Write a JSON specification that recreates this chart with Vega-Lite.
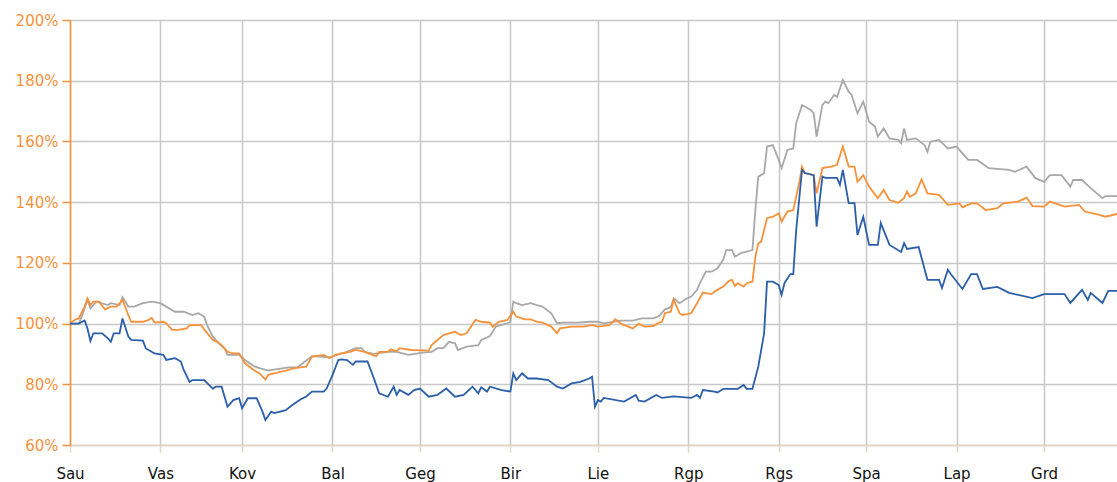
{
  "$schema": "https://vega.github.io/schema/vega-lite/v6.json",
  "autosize": {"type": "none"},
  "padding": {"left": 70, "top": 20, "right": 0, "bottom": 37},
  "width": 1047,
  "height": 425,
  "background": "#ffffff",
  "config": {"view": {"stroke": null}},
  "datasets": {
    "pts": [
      {"s":"b","d":"2009-01-01","v":100},{"s":"b","d":"2009-01-04","v":100},{"s":"b","d":"2009-01-06","v":101},{"s":"b","d":"2009-01-07","v":98.4},{"s":"b","d":"2009-01-08","v":94.3},{"s":"b","d":"2009-01-09","v":96.8},{"s":"b","d":"2009-01-12","v":96.8},{"s":"b","d":"2009-01-14","v":95.1},{"s":"b","d":"2009-01-15","v":94.0},{"s":"b","d":"2009-01-16","v":96.8},{"s":"b","d":"2009-01-18","v":96.8},{"s":"b","d":"2009-01-19","v":101.7},{"s":"b","d":"2009-01-21","v":95.7},{"s":"b","d":"2009-01-22","v":94.6},{"s":"b","d":"2009-01-26","v":94.4},{"s":"b","d":"2009-01-27","v":91.8},{"s":"b","d":"2009-01-29","v":90.7},{"s":"b","d":"2009-01-30","v":90.2},{"s":"b","d":"2009-02-02","v":89.7},{"s":"b","d":"2009-02-03","v":88.0},{"s":"b","d":"2009-02-06","v":88.6},{"s":"b","d":"2009-02-08","v":87.5},{"s":"b","d":"2009-02-09","v":84.7},{"s":"b","d":"2009-02-11","v":80.8},{"s":"b","d":"2009-02-12","v":81.4},{"s":"b","d":"2009-02-16","v":81.4},{"s":"b","d":"2009-02-19","v":78.6},{"s":"b","d":"2009-02-20","v":79.2},{"s":"b","d":"2009-02-22","v":79.2},{"s":"b","d":"2009-02-24","v":72.6},{"s":"b","d":"2009-02-26","v":74.8},{"s":"b","d":"2009-02-28","v":75.4},{"s":"b","d":"2009-03-01","v":72.1},{"s":"b","d":"2009-03-03","v":75.4},{"s":"b","d":"2009-03-06","v":75.4},{"s":"b","d":"2009-03-08","v":71},{"s":"b","d":"2009-03-09","v":68.2},{"s":"b","d":"2009-03-11","v":71},{"s":"b","d":"2009-03-12","v":70.5},{"s":"b","d":"2009-03-16","v":71.5},{"s":"b","d":"2009-03-18","v":73},{"s":"b","d":"2009-03-21","v":75},{"s":"b","d":"2009-03-23","v":76},{"s":"b","d":"2009-03-25","v":77.6},{"s":"b","d":"2009-03-29","v":77.6},{"s":"b","d":"2009-03-30","v":78.6},{"s":"b","d":"2009-04-01","v":83},{"s":"b","d":"2009-04-03","v":88},{"s":"b","d":"2009-04-04","v":88.2},{"s":"b","d":"2009-04-06","v":88.0},{"s":"b","d":"2009-04-08","v":86.4},{"s":"b","d":"2009-04-09","v":87.5},{"s":"b","d":"2009-04-13","v":87.5},{"s":"b","d":"2009-04-15","v":82.5},{"s":"b","d":"2009-04-17","v":77.0},{"s":"b","d":"2009-04-20","v":75.9},{"s":"b","d":"2009-04-22","v":79.2},{"s":"b","d":"2009-04-23","v":76.5},{"s":"b","d":"2009-04-24","v":78.1},{"s":"b","d":"2009-04-27","v":76.5},{"s":"b","d":"2009-04-29","v":78.1},{"s":"b","d":"2009-05-01","v":78.6},{"s":"b","d":"2009-05-04","v":75.9},{"s":"b","d":"2009-05-07","v":76.5},{"s":"b","d":"2009-05-10","v":78.6},{"s":"b","d":"2009-05-13","v":75.9},{"s":"b","d":"2009-05-16","v":76.5},{"s":"b","d":"2009-05-19","v":79.2},{"s":"b","d":"2009-05-21","v":77.0},{"s":"b","d":"2009-05-22","v":79.0},{"s":"b","d":"2009-05-24","v":77.6},{"s":"b","d":"2009-05-25","v":79.2},{"s":"b","d":"2009-05-29","v":78.1},{"s":"b","d":"2009-06-01","v":77.6},{"s":"b","d":"2009-06-02","v":83.6},{"s":"b","d":"2009-06-03","v":81.4},{"s":"b","d":"2009-06-05","v":83.6},{"s":"b","d":"2009-06-07","v":81.9},{"s":"b","d":"2009-06-10","v":81.9},{"s":"b","d":"2009-06-14","v":81.4},{"s":"b","d":"2009-06-17","v":79.2},{"s":"b","d":"2009-06-19","v":78.6},{"s":"b","d":"2009-06-22","v":80.3},{"s":"b","d":"2009-06-25","v":80.8},{"s":"b","d":"2009-06-28","v":81.9},{"s":"b","d":"2009-06-29","v":82.5},{"s":"b","d":"2009-06-30","v":72.6},{"s":"b","d":"2009-07-01","v":74.8},{"s":"b","d":"2009-07-02","v":74.3},{"s":"b","d":"2009-07-03","v":75.5},{"s":"b","d":"2009-07-10","v":74.3},{"s":"b","d":"2009-07-14","v":76.5},{"s":"b","d":"2009-07-15","v":74.6},{"s":"b","d":"2009-07-17","v":74.3},{"s":"b","d":"2009-07-21","v":76.5},{"s":"b","d":"2009-07-23","v":75.5},{"s":"b","d":"2009-07-27","v":76},{"s":"b","d":"2009-08-02","v":75.5},{"s":"b","d":"2009-08-04","v":76.5},{"s":"b","d":"2009-08-05","v":75.5},{"s":"b","d":"2009-08-06","v":78.1},{"s":"b","d":"2009-08-10","v":77.6},{"s":"b","d":"2009-08-11","v":77.3},{"s":"b","d":"2009-08-13","v":78.5},{"s":"b","d":"2009-08-18","v":78.5},{"s":"b","d":"2009-08-20","v":79.8},{"s":"b","d":"2009-08-21","v":78.5},{"s":"b","d":"2009-08-23","v":78.5},{"s":"b","d":"2009-08-25","v":85.8},{"s":"b","d":"2009-08-27","v":96.8},{"s":"b","d":"2009-08-28","v":113.8},{"s":"b","d":"2009-08-30","v":113.8},{"s":"b","d":"2009-09-01","v":112.7},{"s":"b","d":"2009-09-02","v":109.4},{"s":"b","d":"2009-09-03","v":113.4},{"s":"b","d":"2009-09-05","v":116.3},{"s":"b","d":"2009-09-06","v":116.3},{"s":"b","d":"2009-09-07","v":130.8},{"s":"b","d":"2009-09-09","v":150.6},{"s":"b","d":"2009-09-10","v":149.6},{"s":"b","d":"2009-09-13","v":148.9},{"s":"b","d":"2009-09-14","v":131.9},{"s":"b","d":"2009-09-16","v":148.4},{"s":"b","d":"2009-09-17","v":148.0},{"s":"b","d":"2009-09-21","v":148.0},{"s":"b","d":"2009-09-22","v":145.7},{"s":"b","d":"2009-09-23","v":150.6},{"s":"b","d":"2009-09-25","v":139.7},{"s":"b","d":"2009-09-27","v":139.7},{"s":"b","d":"2009-09-28","v":129.2},{"s":"b","d":"2009-09-30","v":135.2},{"s":"b","d":"2009-10-02","v":125.9},{"s":"b","d":"2009-10-05","v":125.9},{"s":"b","d":"2009-10-06","v":133.1},{"s":"b","d":"2009-10-09","v":125.9},{"s":"b","d":"2009-10-13","v":123.6},{"s":"b","d":"2009-10-14","v":126.5},{"s":"b","d":"2009-10-15","v":124.6},{"s":"b","d":"2009-10-19","v":125.2},{"s":"b","d":"2009-10-22","v":114.4},{"s":"b","d":"2009-10-26","v":114.4},{"s":"b","d":"2009-10-27","v":111.7},{"s":"b","d":"2009-10-29","v":117.7},{"s":"b","d":"2009-10-30","v":116.3},{"s":"b","d":"2009-11-03","v":111.4},{"s":"b","d":"2009-11-06","v":116.3},{"s":"b","d":"2009-11-08","v":116.3},{"s":"b","d":"2009-11-10","v":111.4},{"s":"b","d":"2009-11-15","v":112.1},{"s":"b","d":"2009-11-19","v":110.1},{"s":"b","d":"2009-11-27","v":108.4},{"s":"b","d":"2009-12-01","v":109.7},{"s":"b","d":"2009-12-08","v":109.7},{"s":"b","d":"2009-12-10","v":106.8},{"s":"b","d":"2009-12-14","v":111.1},{"s":"b","d":"2009-12-16","v":107.8},{"s":"b","d":"2009-12-17","v":110.1},{"s":"b","d":"2009-12-21","v":106.8},{"s":"b","d":"2009-12-23","v":110.8},{"s":"b","d":"2009-12-26","v":110.8},

      {"s":"o","d":"2009-01-01","v":100.1},{"s":"o","d":"2009-01-03","v":101.4},{"s":"o","d":"2009-01-04","v":101.7},{"s":"o","d":"2009-01-06","v":105.6},{"s":"o","d":"2009-01-07","v":108.3},{"s":"o","d":"2009-01-08","v":106.1},{"s":"o","d":"2009-01-09","v":107.2},{"s":"o","d":"2009-01-11","v":107.2},{"s":"o","d":"2009-01-13","v":104.7},{"s":"o","d":"2009-01-15","v":105.6},{"s":"o","d":"2009-01-17","v":105.6},{"s":"o","d":"2009-01-19","v":107.8},{"s":"o","d":"2009-01-21","v":102.8},{"s":"o","d":"2009-01-22","v":100.6},{"s":"o","d":"2009-01-26","v":100.6},{"s":"o","d":"2009-01-28","v":101.2},{"s":"o","d":"2009-01-29","v":101.9},{"s":"o","d":"2009-01-30","v":100.3},{"s":"o","d":"2009-02-02","v":100.6},{"s":"o","d":"2009-02-03","v":100.1},{"s":"o","d":"2009-02-05","v":97.9},{"s":"o","d":"2009-02-07","v":97.9},{"s":"o","d":"2009-02-10","v":98.4},{"s":"o","d":"2009-02-11","v":99.5},{"s":"o","d":"2009-02-15","v":99.5},{"s":"o","d":"2009-02-16","v":98.1},{"s":"o","d":"2009-02-19","v":94.6},{"s":"o","d":"2009-02-21","v":93.7},{"s":"o","d":"2009-02-23","v":91.8},{"s":"o","d":"2009-02-24","v":90.7},{"s":"o","d":"2009-02-26","v":90.2},{"s":"o","d":"2009-02-28","v":90.2},{"s":"o","d":"2009-03-02","v":86.9},{"s":"o","d":"2009-03-05","v":84.7},{"s":"o","d":"2009-03-07","v":83.6},{"s":"o","d":"2009-03-09","v":81.6},{"s":"o","d":"2009-03-10","v":83.1},{"s":"o","d":"2009-03-12","v":83.6},{"s":"o","d":"2009-03-16","v":84.5},{"s":"o","d":"2009-03-19","v":85.3},{"s":"o","d":"2009-03-23","v":85.8},{"s":"o","d":"2009-03-25","v":89.1},{"s":"o","d":"2009-03-29","v":89.7},{"s":"o","d":"2009-03-31","v":88.6},{"s":"o","d":"2009-04-02","v":89.7},{"s":"o","d":"2009-04-04","v":90.2},{"s":"o","d":"2009-04-07","v":90.7},{"s":"o","d":"2009-04-09","v":91.3},{"s":"o","d":"2009-04-12","v":90.7},{"s":"o","d":"2009-04-16","v":89.3},{"s":"o","d":"2009-04-17","v":90.7},{"s":"o","d":"2009-04-20","v":90.7},{"s":"o","d":"2009-04-21","v":91.5},{"s":"o","d":"2009-04-23","v":90.9},{"s":"o","d":"2009-04-24","v":91.9},{"s":"o","d":"2009-04-28","v":91.3},{"s":"o","d":"2009-05-04","v":91.1},{"s":"o","d":"2009-05-05","v":92.9},{"s":"o","d":"2009-05-07","v":94.6},{"s":"o","d":"2009-05-09","v":96.2},{"s":"o","d":"2009-05-11","v":96.8},{"s":"o","d":"2009-05-13","v":97.3},{"s":"o","d":"2009-05-15","v":96.2},{"s":"o","d":"2009-05-17","v":96.8},{"s":"o","d":"2009-05-20","v":101.2},{"s":"o","d":"2009-05-22","v":100.6},{"s":"o","d":"2009-05-25","v":100.3},{"s":"o","d":"2009-05-26","v":99.0},{"s":"o","d":"2009-05-28","v":100.6},{"s":"o","d":"2009-05-31","v":101.2},{"s":"o","d":"2009-06-02","v":103.9},{"s":"o","d":"2009-06-03","v":102.3},{"s":"o","d":"2009-06-06","v":101.4},{"s":"o","d":"2009-06-08","v":101.4},{"s":"o","d":"2009-06-10","v":100.6},{"s":"o","d":"2009-06-12","v":100.3},{"s":"o","d":"2009-06-15","v":99.0},{"s":"o","d":"2009-06-17","v":96.8},{"s":"o","d":"2009-06-18","v":98.4},{"s":"o","d":"2009-06-22","v":99.0},{"s":"o","d":"2009-06-26","v":99.0},{"s":"o","d":"2009-06-29","v":99.5},{"s":"o","d":"2009-07-01","v":99.0},{"s":"o","d":"2009-07-05","v":99.5},{"s":"o","d":"2009-07-07","v":101.4},{"s":"o","d":"2009-07-09","v":99.9},{"s":"o","d":"2009-07-13","v":98.4},{"s":"o","d":"2009-07-15","v":99.9},{"s":"o","d":"2009-07-17","v":99.0},{"s":"o","d":"2009-07-20","v":99.2},{"s":"o","d":"2009-07-22","v":100.3},{"s":"o","d":"2009-07-23","v":100.6},{"s":"o","d":"2009-07-24","v":103.4},{"s":"o","d":"2009-07-26","v":103.9},{"s":"o","d":"2009-07-27","v":107.8},{"s":"o","d":"2009-07-29","v":103.4},{"s":"o","d":"2009-07-30","v":102.8},{"s":"o","d":"2009-08-02","v":103.4},{"s":"o","d":"2009-08-04","v":106.7},{"s":"o","d":"2009-08-06","v":110.2},{"s":"o","d":"2009-08-09","v":109.7},{"s":"o","d":"2009-08-10","v":110.5},{"s":"o","d":"2009-08-11","v":111.1},{"s":"o","d":"2009-08-13","v":112.2},{"s":"o","d":"2009-08-15","v":114.1},{"s":"o","d":"2009-08-16","v":114.4},{"s":"o","d":"2009-08-17","v":112.4},{"s":"o","d":"2009-08-18","v":113.3},{"s":"o","d":"2009-08-20","v":112.2},{"s":"o","d":"2009-08-21","v":113.3},{"s":"o","d":"2009-08-23","v":113.8},{"s":"o","d":"2009-08-24","v":122.0},{"s":"o","d":"2009-08-25","v":126.4},{"s":"o","d":"2009-08-26","v":127.0},{"s":"o","d":"2009-08-27","v":130.8},{"s":"o","d":"2009-08-28","v":134.7},{"s":"o","d":"2009-08-30","v":135.2},{"s":"o","d":"2009-09-01","v":136.3},{"s":"o","d":"2009-09-02","v":133.6},{"s":"o","d":"2009-09-04","v":136.9},{"s":"o","d":"2009-09-06","v":137.4},{"s":"o","d":"2009-09-08","v":146.2},{"s":"o","d":"2009-09-09","v":151.7},{"s":"o","d":"2009-09-10","v":149.5},{"s":"o","d":"2009-09-13","v":148.9},{"s":"o","d":"2009-09-14","v":142.9},{"s":"o","d":"2009-09-16","v":151.2},{"s":"o","d":"2009-09-19","v":151.7},{"s":"o","d":"2009-09-21","v":152.3},{"s":"o","d":"2009-09-23","v":158.3},{"s":"o","d":"2009-09-25","v":151.7},{"s":"o","d":"2009-09-27","v":151.7},{"s":"o","d":"2009-09-28","v":146.7},{"s":"o","d":"2009-09-30","v":148.9},{"s":"o","d":"2009-10-02","v":145.1},{"s":"o","d":"2009-10-05","v":141.3},{"s":"o","d":"2009-10-07","v":144.0},{"s":"o","d":"2009-10-09","v":140.7},{"s":"o","d":"2009-10-12","v":139.8},{"s":"o","d":"2009-10-14","v":141.3},{"s":"o","d":"2009-10-15","v":143.5},{"s":"o","d":"2009-10-16","v":141.8},{"s":"o","d":"2009-10-18","v":142.9},{"s":"o","d":"2009-10-20","v":147.5},{"s":"o","d":"2009-10-22","v":142.9},{"s":"o","d":"2009-10-26","v":142.4},{"s":"o","d":"2009-10-29","v":139.1},{"s":"o","d":"2009-11-02","v":139.6},{"s":"o","d":"2009-11-03","v":138.3},{"s":"o","d":"2009-11-06","v":139.6},{"s":"o","d":"2009-11-08","v":139.6},{"s":"o","d":"2009-11-11","v":137.4},{"s":"o","d":"2009-11-15","v":138.0},{"s":"o","d":"2009-11-17","v":139.6},{"s":"o","d":"2009-11-22","v":140.2},{"s":"o","d":"2009-11-25","v":141.5},{"s":"o","d":"2009-11-27","v":138.7},{"s":"o","d":"2009-12-01","v":138.5},{"s":"o","d":"2009-12-03","v":140.2},{"s":"o","d":"2009-12-08","v":138.5},{"s":"o","d":"2009-12-13","v":139.1},{"s":"o","d":"2009-12-15","v":136.9},{"s":"o","d":"2009-12-20","v":135.8},{"s":"o","d":"2009-12-22","v":135.2},{"s":"o","d":"2009-12-26","v":136.1},

      {"s":"g","d":"2009-01-01","v":100},{"s":"g","d":"2009-01-04","v":100},{"s":"g","d":"2009-01-05","v":102.3},{"s":"g","d":"2009-01-07","v":107.8},{"s":"g","d":"2009-01-08","v":105.0},{"s":"g","d":"2009-01-10","v":107.2},{"s":"g","d":"2009-01-14","v":106.1},{"s":"g","d":"2009-01-15","v":106.7},{"s":"g","d":"2009-01-18","v":106.1},{"s":"g","d":"2009-01-19","v":108.7},{"s":"g","d":"2009-01-21","v":105.6},{"s":"g","d":"2009-01-23","v":105.6},{"s":"g","d":"2009-01-26","v":106.7},{"s":"g","d":"2009-01-29","v":107.2},{"s":"g","d":"2009-02-01","v":106.7},{"s":"g","d":"2009-02-04","v":105.0},{"s":"g","d":"2009-02-06","v":103.9},{"s":"g","d":"2009-02-09","v":103.9},{"s":"g","d":"2009-02-12","v":102.8},{"s":"g","d":"2009-02-14","v":103.4},{"s":"g","d":"2009-02-16","v":102.3},{"s":"g","d":"2009-02-17","v":99.5},{"s":"g","d":"2009-02-19","v":95.7},{"s":"g","d":"2009-02-21","v":93.5},{"s":"g","d":"2009-02-23","v":91.8},{"s":"g","d":"2009-02-24","v":89.7},{"s":"g","d":"2009-02-28","v":89.7},{"s":"g","d":"2009-03-02","v":88.0},{"s":"g","d":"2009-03-05","v":86.0},{"s":"g","d":"2009-03-07","v":85.3},{"s":"g","d":"2009-03-10","v":84.5},{"s":"g","d":"2009-03-13","v":85.0},{"s":"g","d":"2009-03-17","v":85.6},{"s":"g","d":"2009-03-20","v":85.6},{"s":"g","d":"2009-03-25","v":89.3},{"s":"g","d":"2009-03-31","v":88.9},{"s":"g","d":"2009-04-05","v":90.4},{"s":"g","d":"2009-04-09","v":91.9},{"s":"g","d":"2009-04-11","v":91.9},{"s":"g","d":"2009-04-12","v":90.7},{"s":"g","d":"2009-04-15","v":90.0},{"s":"g","d":"2009-04-20","v":90.7},{"s":"g","d":"2009-04-23","v":90.7},{"s":"g","d":"2009-04-27","v":89.7},{"s":"g","d":"2009-05-02","v":90.4},{"s":"g","d":"2009-05-05","v":90.7},{"s":"g","d":"2009-05-07","v":91.9},{"s":"g","d":"2009-05-09","v":91.9},{"s":"g","d":"2009-05-11","v":94.0},{"s":"g","d":"2009-05-13","v":93.5},{"s":"g","d":"2009-05-14","v":91.3},{"s":"g","d":"2009-05-17","v":92.4},{"s":"g","d":"2009-05-21","v":92.9},{"s":"g","d":"2009-05-22","v":94.6},{"s":"g","d":"2009-05-25","v":95.9},{"s":"g","d":"2009-05-27","v":99.0},{"s":"g","d":"2009-05-31","v":100.1},{"s":"g","d":"2009-06-01","v":100.6},{"s":"g","d":"2009-06-02","v":107.2},{"s":"g","d":"2009-06-03","v":106.7},{"s":"g","d":"2009-06-05","v":106.1},{"s":"g","d":"2009-06-08","v":106.7},{"s":"g","d":"2009-06-10","v":106.1},{"s":"g","d":"2009-06-12","v":105.6},{"s":"g","d":"2009-06-15","v":103.4},{"s":"g","d":"2009-06-17","v":100.1},{"s":"g","d":"2009-06-19","v":100.3},{"s":"g","d":"2009-06-24","v":100.3},{"s":"g","d":"2009-06-28","v":100.6},{"s":"g","d":"2009-07-01","v":100.6},{"s":"g","d":"2009-07-03","v":100.1},{"s":"g","d":"2009-07-09","v":101.0},{"s":"g","d":"2009-07-13","v":101.0},{"s":"g","d":"2009-07-16","v":101.7},{"s":"g","d":"2009-07-20","v":101.7},{"s":"g","d":"2009-07-22","v":102.5},{"s":"g","d":"2009-07-24","v":104.7},{"s":"g","d":"2009-07-26","v":105.4},{"s":"g","d":"2009-07-27","v":108.3},{"s":"g","d":"2009-07-29","v":106.7},{"s":"g","d":"2009-07-31","v":108.0},{"s":"g","d":"2009-08-02","v":108.9},{"s":"g","d":"2009-08-04","v":111.1},{"s":"g","d":"2009-08-05","v":113.3},{"s":"g","d":"2009-08-07","v":117.1},{"s":"g","d":"2009-08-09","v":117.1},{"s":"g","d":"2009-08-11","v":118.2},{"s":"g","d":"2009-08-13","v":121.0},{"s":"g","d":"2009-08-14","v":124.2},{"s":"g","d":"2009-08-16","v":124.2},{"s":"g","d":"2009-08-17","v":122.0},{"s":"g","d":"2009-08-19","v":123.2},{"s":"g","d":"2009-08-21","v":123.7},{"s":"g","d":"2009-08-23","v":124.2},{"s":"g","d":"2009-08-24","v":137.4},{"s":"g","d":"2009-08-25","v":148.4},{"s":"g","d":"2009-08-27","v":149.5},{"s":"g","d":"2009-08-28","v":158.3},{"s":"g","d":"2009-08-30","v":158.8},{"s":"g","d":"2009-09-01","v":153.9},{"s":"g","d":"2009-09-02","v":151.2},{"s":"g","d":"2009-09-04","v":157.2},{"s":"g","d":"2009-09-06","v":157.7},{"s":"g","d":"2009-09-07","v":166.0},{"s":"g","d":"2009-09-09","v":172.0},{"s":"g","d":"2009-09-12","v":170.4},{"s":"g","d":"2009-09-13","v":169.3},{"s":"g","d":"2009-09-14","v":161.6},{"s":"g","d":"2009-09-16","v":172.0},{"s":"g","d":"2009-09-17","v":173.1},{"s":"g","d":"2009-09-18","v":172.6},{"s":"g","d":"2009-09-20","v":175.3},{"s":"g","d":"2009-09-21","v":174.7},{"s":"g","d":"2009-09-23","v":180.2},{"s":"g","d":"2009-09-25","v":176.4},{"s":"g","d":"2009-09-26","v":175.3},{"s":"g","d":"2009-09-28","v":169.3},{"s":"g","d":"2009-09-30","v":173.1},{"s":"g","d":"2009-10-02","v":166.5},{"s":"g","d":"2009-10-04","v":164.9},{"s":"g","d":"2009-10-05","v":161.6},{"s":"g","d":"2009-10-07","v":164.3},{"s":"g","d":"2009-10-09","v":161.0},{"s":"g","d":"2009-10-12","v":160.5},{"s":"g","d":"2009-10-13","v":159.4},{"s":"g","d":"2009-10-14","v":164.3},{"s":"g","d":"2009-10-15","v":160.5},{"s":"g","d":"2009-10-18","v":161.0},{"s":"g","d":"2009-10-21","v":158.8},{"s":"g","d":"2009-10-22","v":156.6},{"s":"g","d":"2009-10-23","v":159.9},{"s":"g","d":"2009-10-26","v":160.5},{"s":"g","d":"2009-10-29","v":157.7},{"s":"g","d":"2009-11-01","v":158.3},{"s":"g","d":"2009-11-04","v":155.0},{"s":"g","d":"2009-11-05","v":153.9},{"s":"g","d":"2009-11-08","v":153.9},{"s":"g","d":"2009-11-12","v":151.2},{"s":"g","d":"2009-11-19","v":150.6},{"s":"g","d":"2009-11-21","v":150.0},{"s":"g","d":"2009-11-25","v":151.7},{"s":"g","d":"2009-11-28","v":147.9},{"s":"g","d":"2009-12-01","v":146.7},{"s":"g","d":"2009-12-03","v":148.9},{"s":"g","d":"2009-12-07","v":148.9},{"s":"g","d":"2009-12-10","v":145.1},{"s":"g","d":"2009-12-11","v":147.3},{"s":"g","d":"2009-12-14","v":147.3},{"s":"g","d":"2009-12-17","v":144.6},{"s":"g","d":"2009-12-21","v":141.3},{"s":"g","d":"2009-12-22","v":142.0},{"s":"g","d":"2009-12-26","v":142.0}
    ]
  },
  "data": {"name": "pts"},
  "encoding": {
    "x": {
      "field": "d",
      "type": "temporal",
      "scale": {
        "type": "utc",
        "domain": [{"year": 2009, "month": 1, "date": 1, "utc": true}, {"year": 2009, "month": 12, "date": 26, "utc": true}],
        "nice": false
      },
      "axis": {
        "title": null,
        "values": [
          {"year": 2009, "month": 1, "date": 1, "utc": true},
          {"year": 2009, "month": 2, "date": 1, "utc": true},
          {"year": 2009, "month": 3, "date": 1, "utc": true},
          {"year": 2009, "month": 4, "date": 1, "utc": true},
          {"year": 2009, "month": 5, "date": 1, "utc": true},
          {"year": 2009, "month": 6, "date": 1, "utc": true},
          {"year": 2009, "month": 7, "date": 1, "utc": true},
          {"year": 2009, "month": 8, "date": 1, "utc": true},
          {"year": 2009, "month": 9, "date": 1, "utc": true},
          {"year": 2009, "month": 10, "date": 1, "utc": true},
          {"year": 2009, "month": 11, "date": 1, "utc": true},
          {"year": 2009, "month": 12, "date": 1, "utc": true}
        ],
        "labelExpr": "['Sau','Vas','Kov','Bal','Geg','Bir','Lie','Rgp','Rgs','Spa','Lap','Grd'][utcmonth(datum.value)]",
        "grid": true,
        "gridColor": "#c8c8c8",
        "gridWidth": 1.5,
        "domainColor": "#e3d6c3",
        "domainWidth": 1.5,
        "tickColor": "#e3d6c3",
        "tickWidth": 1.5,
        "tickSize": 7,
        "labelFont": "DejaVu Sans",
        "labelFontSize": 15,
        "labelColor": "#111111",
        "labelPadding": 14,
        "labelAlign": "center",
        "labelDx": 7,
        "labelFlush": false,
        "labelOverlap": false
      }
    },
    "y": {
      "field": "v",
      "type": "quantitative",
      "scale": {"domain": [60, 200], "nice": false, "zero": false},
      "axis": {
        "title": null,
        "values": [60, 80, 100, 120, 140, 160, 180, 200],
        "labelExpr": "datum.value + '%'",
        "grid": true,
        "gridColor": "#c8c8c8",
        "gridWidth": 1.5,
        "domainColor": "#f7923a",
        "domainWidth": 1.5,
        "tickColor": "#f7923a",
        "tickWidth": 1.5,
        "tickSize": 8,
        "labelFont": "DejaVu Sans",
        "labelFontSize": 15,
        "labelColor": "#f7923a",
        "labelPadding": 4,
        "labelFlush": false,
        "labelOverlap": false
      }
    }
  },
  "layer": [
    {"transform": [{"filter": "datum.s == 'g'"}], "mark": {"type": "line", "color": "#a8a8a8", "strokeWidth": 1.8}},
    {"transform": [{"filter": "datum.s == 'o'"}], "mark": {"type": "line", "color": "#f7923a", "strokeWidth": 1.8}},
    {"transform": [{"filter": "datum.s == 'b'"}], "mark": {"type": "line", "color": "#2b5fa9", "strokeWidth": 1.8}}
  ]
}
